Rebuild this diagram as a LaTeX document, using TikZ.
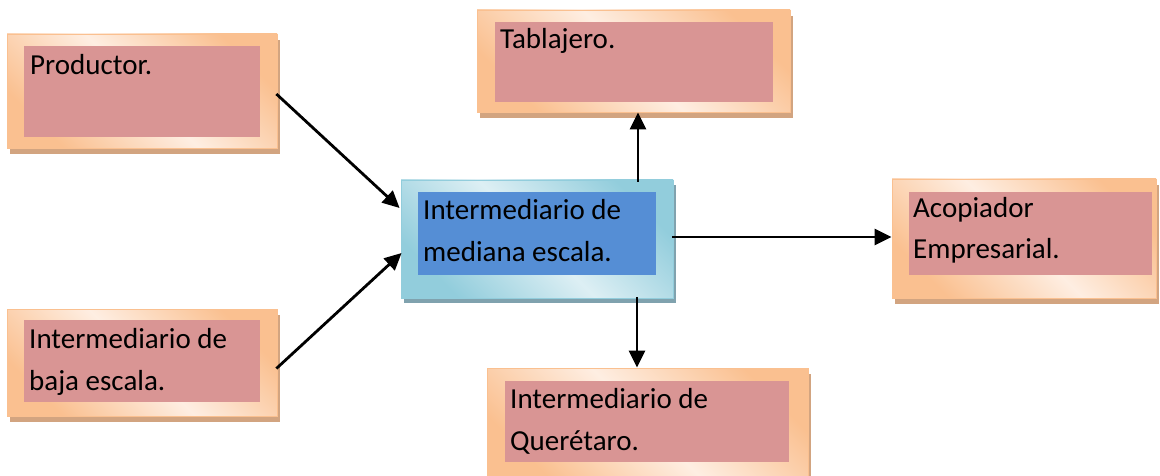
\documentclass[tikz,border=0pt]{standalone}
\usepackage{fontspec}
\setmainfont{Carlito}
\usetikzlibrary{arrows.meta,fit,calc,shadows}
\definecolor{oredge}{HTML}{FAC090}
\definecolor{orlight}{HTML}{FEEEE2}
\definecolor{pinkin}{HTML}{D99594}
\definecolor{orshadow}{HTML}{D2A480}
\definecolor{bledge}{HTML}{92CDDC}
\definecolor{bllight}{HTML}{DDEFF4}
\definecolor{bluein}{HTML}{558ED5}
\definecolor{blshadow}{HTML}{80A2AE}
\tikzset{
  obox/.style={inner sep=0pt, draw=oredge, line width=0.8pt,
    left color=oredge, right color=oredge, middle color=orlight, shading angle=-45,
    general shadow={fill=orshadow, shadow xshift=3pt, shadow yshift=-6pt}},
  cbox/.style={inner sep=0pt, draw=bledge, line width=0.8pt,
    left color=bledge, right color=bledge, middle color=bllight, shading angle=-45,
    general shadow={fill=blshadow, shadow xshift=3pt, shadow yshift=-5pt}},
  pinner/.style={inner sep=0pt, fill=pinkin},
  binner/.style={inner sep=0pt, fill=bluein},
  lbl/.style={anchor=base west, inner sep=0pt, font=\fontsize{29}{42}\selectfont},
  arr/.style={line width=2.8pt, -{Triangle[length=17pt,width=16pt]}}
}
\begin{document}
\begin{tikzpicture}[x=1pt,y=-1pt]
\useasboundingbox (0,0) rectangle (1160,476);
% Productor
\node[obox, fit={(7,34) (277,148)}] (P) {};
\node[pinner, fit={(24,46) (260,137)}] (Pi) {};
\node[lbl] (Pt) at (30,75) {Productor.};
% Baja escala
\node[obox, fit={(7,309) (277,416)}] (B) {};
\node[pinner, fit={(24,320) (260,402)}] (Bi) {};
\node[lbl] (Bt) at (29,348) {\vtop{\hbox{Intermediario de}\hbox{baja escala.}}};
% Tablajero
\node[obox, fit={(477,10) (790,112)}] (T) {};
\node[pinner, fit={(495,22) (773,102)}] (Ti) {};
\node[lbl] (Tt) at (500,49) {Tablajero.};
% Central
\node[cbox, fit={(401,180) (673,298)}] (C) {};
\node[binner, fit={(418,192) (656,275)}] (Ci) {};
\node[lbl] (Ct) at (423,219) {\vtop{\hbox{Intermediario de}\hbox{mediana escala.}}};
% Acopiador
\node[obox, fit={(892,179) (1156,298)}] (A) {};
\node[pinner, fit={(909,192) (1152,275)}] (Ai) {};
\node[lbl] (At) at (913,217) {\vtop{\hbox{Acopiador}\hbox{Empresarial.}}};
% Queretaro
\node[obox, fit={(487,368) (808,480)}] (Q) {};
\node[pinner, fit={(505,381) (789,462)}] (Qi) {};
\node[lbl] (Qt) at (510,408) {\vtop{\hbox{Intermediario de}\hbox{Querétaro.}}};
% arrow anchors
\coordinate (cu) at ($(C.north)+(101,2)$);
\coordinate (cr) at ($(C.east)+(-1,-2)$);
\coordinate (cd) at ($(C.south)+(100,-1)$);
% arrows
\draw[arr] ($(P.east)+(-1,3)$) -- ($(C.west)+(-1,-31)$);
\draw[arr] ($(B.east)+(-1,6)$) -- ($(C.west)+(1,14)$);
\draw[arr] (cu) -- (cu |- T.south);
\draw[arr] (cr) -- (cr -| A.west);
\draw[arr] (cd) -- (cd |- Q.north);
\end{tikzpicture}
\end{document}
